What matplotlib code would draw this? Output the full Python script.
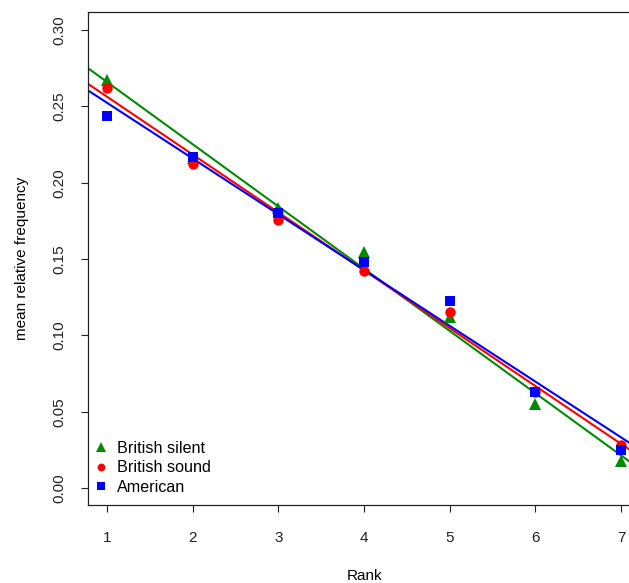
import numpy as np
import matplotlib
matplotlib.use("Agg")
import matplotlib.pyplot as plt

rank = [1, 2, 3, 4, 5, 6, 7]
british_silent = [0.267, 0.216, 0.1835, 0.1545, 0.112, 0.055, 0.0177]
british_sound = [0.262, 0.2125, 0.1755, 0.142, 0.1155, 0.0629, 0.028]
american = [0.2440, 0.217, 0.180, 0.148, 0.1225, 0.0629, 0.025]

series = [
    ("British silent", british_silent, "#008B00", "^", 9),
    ("British sound", british_sound, "#FF0000", "o", 7.5),
    ("American", american, "#0000FF", "s", 7.5),
]

plt.rcParams['font.family'] = ['Liberation Sans', 'DejaVu Sans']
FS = 11

fig = plt.figure(figsize=(6.29, 5.83), dpi=100)
W, H = 629, 583
left_px, right_px, top_px, bottom_px = 88, 641.6, 12, 505
ax = fig.add_axes([left_px / W, 1 - bottom_px / H,
                   (right_px - left_px) / W, (bottom_px - top_px) / H])

x = np.array(rank, dtype=float)
for name, vals, col, mk, ms in series:
    y = np.array(vals)
    slope, intercept = np.polyfit(x, y, 1)
    ax.axline((0, intercept), slope=slope, color=col, lw=1.5, zorder=2)
for name, vals, col, mk, ms in series:
    ax.plot(rank, vals, linestyle="none", marker=mk, color=col,
            markersize=ms, markeredgewidth=0, label=name, zorder=3)

ax.set_xlim(1 - 19 / 85.67, 7.24)
ax.set_ylim(-0.0111, 0.3118)
ax.set_xticks(rank)
ax.set_yticks([0.0, 0.05, 0.10, 0.15, 0.20, 0.25, 0.30])
ax.set_yticklabels(["0.00", "0.05", "0.10", "0.15", "0.20", "0.25", "0.30"],
                   rotation=90, va="center")
ax.tick_params(axis="both", labelsize=FS, length=5, width=0.8, colors="#222222")
ax.tick_params(axis="x", pad=14)
ax.tick_params(axis="y", pad=10.5)
for s in ax.spines.values():
    s.set_linewidth(0.9)
    s.set_color("#222222")

ax.set_xlabel("Rank", fontsize=FS, labelpad=17)
ax.set_ylabel("mean relative frequency", fontsize=FS, labelpad=17)

leg = ax.legend(loc="lower left", bbox_to_anchor=(-0.0072, 0.0), frameon=False,
                fontsize=11.6, handlelength=0.8, handletextpad=0.6,
                borderaxespad=0.3, labelspacing=0.27, markerscale=0.75,
                borderpad=0.35)

fig.savefig("out.png", dpi=100)
